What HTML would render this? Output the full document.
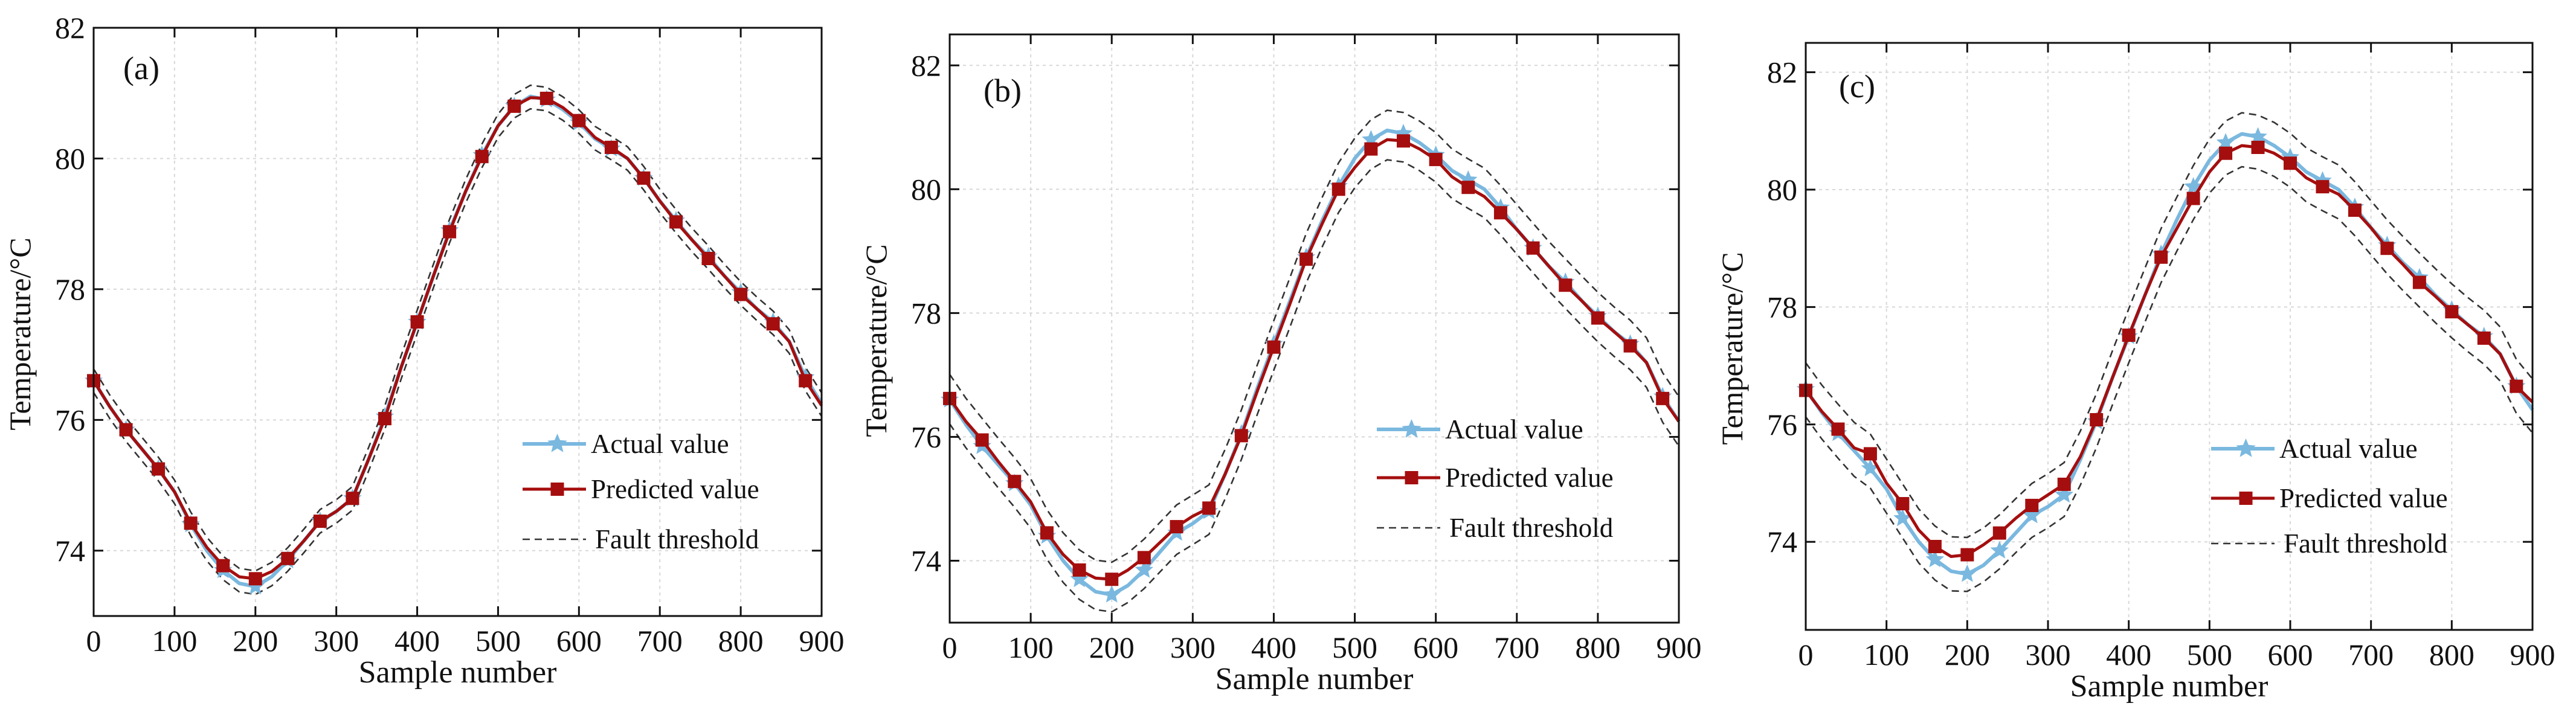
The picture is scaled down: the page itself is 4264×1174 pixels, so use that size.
<!DOCTYPE html>
<html><head><meta charset="utf-8">
<style>
html,body{margin:0;padding:0;background:#fff;}
svg{display:block;}
svg text{font-family:"Liberation Serif","Times New Roman",serif;}
</style></head>
<body>
<svg id="fig" width="4264" height="1174" viewBox="0 0 4264 1174" xmlns="http://www.w3.org/2000/svg" font-family="Liberation Serif, serif"></svg>
<script>
const samples = [0,20,40,60,80,100,120,140,160,180,200,220,240,260,280,300,320,340,360,380,400,420,440,460,480,500,520,540,560,580,600,620,640,660,680,700,720,740,760,780,800,820,840,860,880,900];
const actualA = [76.6,76.2,75.85,75.55,75.25,74.9,74.4,74.0,73.7,73.5,73.45,73.6,73.85,74.15,74.45,74.6,74.8,75.4,76.05,76.8,77.5,78.2,78.9,79.5,80.05,80.5,80.8,80.95,80.9,80.75,80.55,80.3,80.15,80.0,79.7,79.35,79.05,78.75,78.5,78.2,77.95,77.7,77.5,77.2,76.65,76.25];
const predA = [76.6,76.2,75.85,75.55,75.25,74.9,74.42,74.05,73.77,73.6,73.57,73.68,73.88,74.15,74.45,74.6,74.8,75.4,76.02,76.8,77.5,78.2,78.88,79.5,80.03,80.5,80.8,80.93,80.92,80.78,80.58,80.32,80.17,80.0,79.7,79.35,79.03,78.75,78.47,78.2,77.92,77.7,77.47,77.2,76.6,76.22];
const predB = [76.62,76.25,75.95,75.6,75.28,74.95,74.45,74.1,73.85,73.72,73.7,73.85,74.05,74.3,74.55,74.72,74.85,75.4,76.02,76.75,77.45,78.15,78.87,79.45,80.0,80.35,80.65,80.8,80.78,80.65,80.48,80.2,80.03,79.88,79.62,79.35,79.05,78.75,78.45,78.2,77.92,77.7,77.47,77.2,76.62,76.25];
const predC = [76.58,76.22,75.92,75.6,75.5,75.0,74.65,74.2,73.92,73.75,73.78,73.95,74.15,74.4,74.62,74.8,74.98,75.45,76.08,76.8,77.52,78.2,78.85,79.35,79.85,80.3,80.62,80.75,80.72,80.62,80.45,80.2,80.05,79.92,79.65,79.35,79.0,78.72,78.42,78.18,77.92,77.7,77.47,77.2,76.65,76.38];
const bandA = [0.18,0.18,0.18,0.18,0.18,0.18,0.18,0.18,0.18,0.18,0.18,0.18,0.18,0.18,0.18,0.18,0.18,0.18,0.18,0.18,0.18,0.18,0.18,0.18,0.18,0.18,0.18,0.18,0.18,0.18,0.18,0.18,0.18,0.18,0.18,0.18,0.18,0.18,0.18,0.18,0.18,0.18,0.18,0.18,0.18,0.18];
const bandB = [0.4,0.4,0.4,0.4,0.4,0.4,0.4,0.4,0.4,0.4,0.4,0.4,0.4,0.4,0.4,0.4,0.4,0.4,0.4,0.4,0.4,0.4,0.4,0.4,0.4,0.4,0.4,0.4,0.4,0.4,0.4,0.4,0.4,0.4,0.4,0.4,0.4,0.4,0.4,0.4,0.4,0.4,0.4,0.4,0.4,0.4];
const bandC = [0.46,0.46,0.46,0.46,0.46,0.46,0.46,0.46,0.46,0.46,0.46,0.46,0.46,0.46,0.46,0.46,0.46,0.46,0.46,0.46,0.46,0.46,0.46,0.46,0.46,0.46,0.46,0.46,0.46,0.46,0.46,0.46,0.46,0.46,0.46,0.46,0.46,0.46,0.46,0.46,0.46,0.46,0.46,0.46,0.46,0.46];
const xTicks = [0,100,200,300,400,500,600,700,800,900];
const yTicks = [74,76,78,80,82];
const legendLabels = ["Actual value","Predicted value","Fault threshold"];

const NS="http://www.w3.org/2000/svg";
const svg=document.getElementById('fig');
const FONT='"Liberation Serif", "Times New Roman", serif';
function mk(tag,attrs,parent){const e=document.createElementNS(NS,tag);for(const k in attrs)e.setAttribute(k,attrs[k]);if(tag==='text')e.style.fontFamily=FONT;(parent||svg).appendChild(e);return e;}

const panels=[
 {id:'a',L:155,R:1360,T:46,B:1020,ymin:73,ymax:82,pred:predA,band:bandA,lx:865,ly:[735,810,893],lab:[204,113]},
 {id:'b',L:1572,R:2779,T:57,B:1031,ymin:73,ymax:82.5,pred:predB,band:bandB,lx:2279,ly:[711,791,874],lab:[1628,150]},
 {id:'c',L:2989,R:4192,T:71,B:1043,ymin:72.5,ymax:82.5,pred:predC,band:bandC,lx:3660,ly:[743,825,900],lab:[3044,143]}
];
function star(g,cx,cy,r,name){
  let pts=[];for(let i=0;i<10;i++){const a=-Math.PI/2+i*Math.PI/5;const rr=i%2?r*0.45:r;pts.push((cx+rr*Math.cos(a)).toFixed(1)+','+(cy+rr*Math.sin(a)).toFixed(1));}
  const s=mk('polygon',{points:pts.join(' '),fill:'#7ab8df'},g);
  
  
}
function sq(g,cx,cy,h,name){
  const s=mk('rect',{x:cx-h,y:cy-h,width:2*h,height:2*h,fill:'#a50e0e'},g);
  
  
}
panels.forEach(p=>{
  const g=mk('g',{});
  
  
  const X=v=>p.L+(v-0)/(900)*(p.R-p.L);
  const Y=v=>p.B-(v-p.ymin)/(p.ymax-p.ymin)*(p.B-p.T);
  xTicks.forEach(t=>{if(t>0&&t<900){const l=mk('line',{x1:X(t),x2:X(t),y1:p.T,y2:p.B,stroke:'#d8d8d8','stroke-width':2,'stroke-dasharray':'5 6'},g);}});
  yTicks.forEach(t=>{if(t>p.ymin&&t<p.ymax){const l=mk('line',{x1:p.L,x2:p.R,y1:Y(t),y2:Y(t),stroke:'#d8d8d8','stroke-width':2,'stroke-dasharray':'5 6'},g);}});
  const path=arr=>arr.map((v,i)=>(i?'L':'M')+X(samples[i]).toFixed(1)+','+Y(v).toFixed(1)).join(' ');
  const up=mk('path',{d:path(p.pred.map((v,i)=>(actualA[i]+v)/2+p.band[i])),fill:'none',stroke:'#333','stroke-width':2.6,'stroke-dasharray':'12 8'},g);
  
  
  const lo=mk('path',{d:path(p.pred.map((v,i)=>(actualA[i]+v)/2-p.band[i])),fill:'none',stroke:'#333','stroke-width':2.6,'stroke-dasharray':'12 8'},g);
  
  
  const al=mk('path',{d:path(actualA),fill:'none',stroke:'#7ab8df','stroke-width':6,'stroke-linejoin':'round'},g);
  
  
  actualA.forEach((v,i)=>{if(samples[i]%40===0)star(g,X(samples[i]),Y(v),16,'actual-marker');});
  const pl=mk('path',{d:path(p.pred),fill:'none',stroke:'#a50e0e','stroke-width':5,'stroke-linejoin':'round'},g);
  
  
  p.pred.forEach((v,i)=>{if(samples[i]%40===0)sq(g,X(samples[i]),Y(v),11,'predicted-marker');});
  const fr=mk('rect',{x:p.L,y:p.T,width:p.R-p.L,height:p.B-p.T,fill:'none',stroke:'#111','stroke-width':3},g);
  
  
  xTicks.forEach(t=>{
    mk('line',{x1:X(t),x2:X(t),y1:p.B,y2:p.B-16,stroke:'#111','stroke-width':3},g);
    mk('line',{x1:X(t),x2:X(t),y1:p.T,y2:p.T+16,stroke:'#111','stroke-width':3},g);
    const tx=mk('text',{x:X(t),y:p.B+58,'font-size':50,'text-anchor':'middle',fill:'#111'},g);
    tx.textContent=t;
    
    
  });
  yTicks.forEach(t=>{
    mk('line',{x1:p.L,x2:p.L+16,y1:Y(t),y2:Y(t),stroke:'#111','stroke-width':3},g);
    mk('line',{x1:p.R,x2:p.R-16,y1:Y(t),y2:Y(t),stroke:'#111','stroke-width':3},g);
    const tx=mk('text',{x:p.L-14,y:Y(t)+17,'font-size':50,'text-anchor':'end',fill:'#111'},g);
    tx.textContent=t;
    
    
  });
  const xt=mk('text',{x:(p.L+p.R)/2,y:p.B+110,'font-size':52,'text-anchor':'middle',fill:'#111'},g);
  xt.textContent='Sample number';
  
  
  const yx=p.L-105, yc=(p.T+p.B)/2+20;
  const yt=mk('text',{x:yx,y:yc,'font-size':50,'text-anchor':'middle',fill:'#111',transform:`rotate(-90 ${yx} ${yc})`},g);
  yt.textContent='Temperature/°C';
  
  
  const lb=mk('text',{x:p.lab[0],y:p.lab[1]+18,'font-size':54,fill:'#111'},g);
  lb.textContent='('+p.id+')';
  
  
  const lg=mk('g',{},g);
  
  
  const x1=p.lx,x2=p.lx+105,xm=(x1+x2)/2;
  mk('line',{x1:x1,x2:x2,y1:p.ly[0],y2:p.ly[0],stroke:'#7ab8df','stroke-width':6},lg);
  star(lg,xm+5,p.ly[0],17,'legend-actual-marker');
  mk('line',{x1:x1,x2:x2,y1:p.ly[1],y2:p.ly[1],stroke:'#a50e0e','stroke-width':5},lg);
  sq(lg,xm+5,p.ly[1],11,'legend-predicted-marker');
  mk('line',{x1:x1,x2:x2,y1:p.ly[2],y2:p.ly[2],stroke:'#333','stroke-width':2.6,'stroke-dasharray':'12 8'},lg);
  legendLabels.forEach((s,i)=>{
    const t=mk('text',{x:x2+(i==2?15:8),y:p.ly[i]+15,'font-size':45,fill:'#111'},lg);
    t.textContent=s;
    
    
  });
});
</script>
</body></html>
